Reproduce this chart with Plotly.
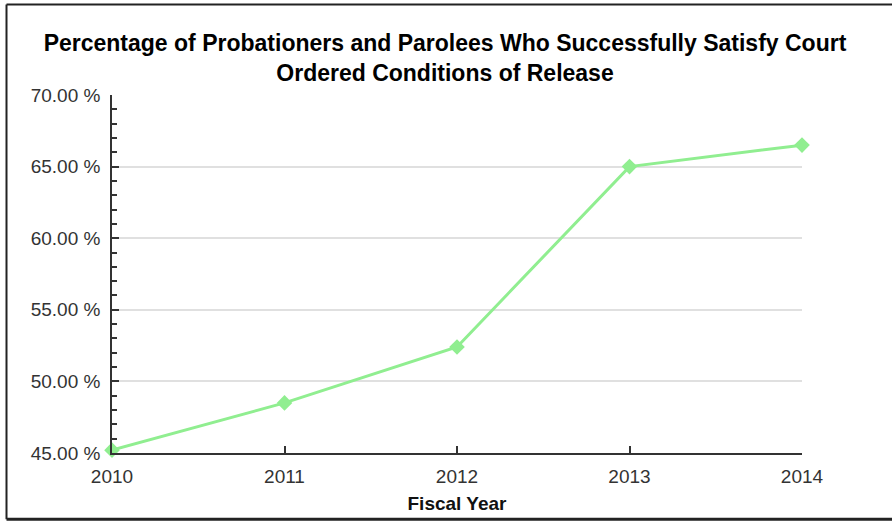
import plotly.graph_objects as go

years = [2010, 2011, 2012, 2013, 2014]
success_pct = [45.2, 48.5, 52.4, 65.0, 66.5]
y_ticks = [45, 50, 55, 60, 65, 70]

title_text = ("Percentage of Probationers and Parolees Who Successfully Satisfy Court<br>"
              "Ordered Conditions of Release")

W, H = 892, 523
L, R, T, B = 112, 90, 95, 68
pw, ph = W - L - R, H - T - B

def px(x):
    return (x - L) / pw

def py(y):
    return (H - B - y) / ph

FONT = "Liberation Sans, Arial, sans-serif"
BORDER = dict(color="#222222", width=2)

fig = go.Figure()
fig.add_trace(go.Scatter(
    x=years, y=success_pct, mode="lines+markers",
    line=dict(color="#90EE90", width=3),
    marker=dict(symbol="diamond", size=12, color="#90EE90"),
    cliponaxis=False, showlegend=False,
))

fig.update_layout(
    width=W, height=H,
    margin=dict(l=L, r=R, t=T, b=B),
    paper_bgcolor="white", plot_bgcolor="white",
    font=dict(family=FONT, color="#333333"),
    title=dict(text=title_text, x=px(445), xanchor="center", xref="paper",
               y=1 - 51 / H, yanchor="middle",
               font=dict(size=23, color="#000000", family=FONT, weight="bold")),
    xaxis=dict(
        range=[2010, 2014], tickvals=years, ticktext=[str(y) for y in years],
        showgrid=False, zeroline=False,
        showline=True, linecolor="#333333", linewidth=1.5,
        ticks="inside", ticklen=7, tickcolor="#333333", tickwidth=1.5,
        tickfont=dict(size=19, color="#333333"),
        ticklabelstandoff=5,
        title=dict(text="<b>Fiscal Year</b>", font=dict(size=19, color="#111111"), standoff=11),
    ),
    yaxis=dict(
        range=[45, 70], tickvals=y_ticks,
        ticktext=[f"{v:.2f} %" for v in y_ticks],
        showgrid=True, gridcolor="#e0e0e0", gridwidth=1.5, zeroline=False,
        showline=True, linecolor="#333333", linewidth=1.5,
        ticks="inside", ticklen=7, tickcolor="#333333", tickwidth=1.5,
        tickfont=dict(size=19, color="#333333"),
        ticklabelstandoff=6,
        minor=dict(dtick=1, tick0=45, ticks="inside", ticklen=5, tickcolor="#333333", tickwidth=1.5, showgrid=False),
    ),
    shapes=[
        dict(type="line", xref="paper", yref="paper", x0=px(6.5), x1=px(6.5),
             y0=py(521.5), y1=py(4), line=BORDER, layer="above"),
        dict(type="line", xref="paper", yref="paper", x0=px(6.5), x1=px(892),
             y0=py(4), y1=py(4), line=BORDER, layer="above"),
        dict(type="line", xref="paper", yref="paper", x0=px(6.5), x1=px(892),
             y0=py(521.5), y1=py(521.5), line=dict(color="#222222", width=3), layer="above"),
    ],
)

fig.write_html("out.html", config={"displayModeBar": False},
               post_script="document.body.style.margin='0';document.body.style.overflow='hidden';")
